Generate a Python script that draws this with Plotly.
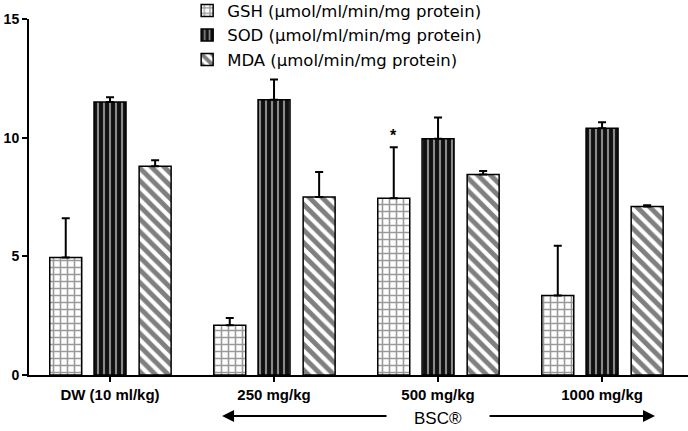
import plotly.graph_objects as go

categories = ["DW (10 ml/kg)", "250 mg/kg", "500 mg/kg", "1000 mg/kg"]
series_names = ["GSH (µmol/ml/min/mg protein)", "SOD (µmol/ml/min/mg protein)", "MDA (µmol/min/mg protein)"]
gsh = [4.95, 2.1, 7.45, 3.35]
gsh_err = [1.65, 0.3, 2.15, 2.1]
sod = [11.5, 11.6, 9.95, 10.4]
sod_err = [0.2, 0.85, 0.9, 0.25]
mda = [8.8, 7.5, 8.45, 7.1]
mda_err = [0.25, 1.05, 0.15, 0.05]
y_ticks = [0, 5, 10, 15]

xs = list(range(len(categories)))
W = 0.195
offsets = [-0.27 - W / 2, -W / 2, 0.275 - W / 2]
patterns = [
    dict(shape="+", fgcolor="#333", bgcolor="#fff", size=7, solidity=0.4, fillmode="overlay"),
    dict(shape="|", fgcolor="#8a8a8a", bgcolor="#111", size=6, solidity=0.35, fillmode="replace"),
    dict(shape="\\", fgcolor="#000", bgcolor="#fff", size=9, solidity=0.55, fillmode="overlay"),
]
colors = ["#fff", "#111", "#fff"]

fig = go.Figure()
for name, vals, errs, off, pat, col in zip(series_names, [gsh, sod, mda], [gsh_err, sod_err, mda_err], offsets, patterns, colors):
    fig.add_trace(go.Bar(
        x=xs, y=vals, name=name, width=W, offset=off,
        marker=dict(color=col, line=dict(color="black", width=1.5), pattern=pat),
        error_y=dict(type="data", array=errs, arrayminus=[0] * len(errs), symmetric=False,
                     color="black", thickness=2, width=4),
    ))

# asterisk above 500 mg/kg GSH
fig.add_annotation(x=2 - 0.27, y=gsh[2] + gsh_err[2], text="<b>*</b>", showarrow=False,
                   yshift=12, font=dict(size=16, color="black", family="Liberation Sans"))

# BSC arrows
fig.add_annotation(x=0.683, y=-0.115, xref="x", yref="paper", ax=1.695, ay=0, axref="x", ayref="pixel",
                   text="", showarrow=True, arrowhead=2, arrowsize=1.2, arrowwidth=2, arrowcolor="black")
fig.add_annotation(x=3.323, y=-0.115, xref="x", yref="paper", ax=2.305, ay=0, axref="x", ayref="pixel",
                   text="", showarrow=True, arrowhead=2, arrowsize=1.2, arrowwidth=2, arrowcolor="black")
fig.add_annotation(x=2.0, y=-0.123, xref="x", yref="paper", yanchor="middle", text="BSC®", showarrow=False,
                   font=dict(size=17, color="black", family="Liberation Sans"))

fig.update_layout(
    width=688, height=431,
    margin=dict(l=29, r=0, t=19, b=56, autoexpand=False),
    plot_bgcolor="white", paper_bgcolor="white",
    barmode="group",
    showlegend=True,
    legend=dict(x=0.24, y=1.072, xanchor="left", yanchor="top", bgcolor="rgba(0,0,0,0)",
                font=dict(size=16.5, color="black", family="DejaVu Sans"), tracegroupgap=0),
    xaxis=dict(range=[-0.494, 3.524], tickmode="array", tickvals=xs,
               ticktext=["<b>%s</b>" % c for c in categories],
               showline=True, linecolor="black", linewidth=2, ticks="outside", ticklen=5,
               tickwidth=2, tickcolor="black", showgrid=False, zeroline=False,
               tickfont=dict(size=15, color="black", family="Liberation Sans")),
    yaxis=dict(range=[0, 15], tickmode="array", tickvals=y_ticks,
               ticktext=["<b>%d</b>" % t for t in y_ticks],
               showline=True, linecolor="black", linewidth=2, ticks="outside", ticklen=5,
               tickwidth=2, tickcolor="black", showgrid=False, zeroline=False,
               tickfont=dict(size=14, color="black", family="Liberation Sans")),
)

fig.write_html("out.html", config={"displayModeBar": False},
               post_script="document.body.style.margin='0px';")
